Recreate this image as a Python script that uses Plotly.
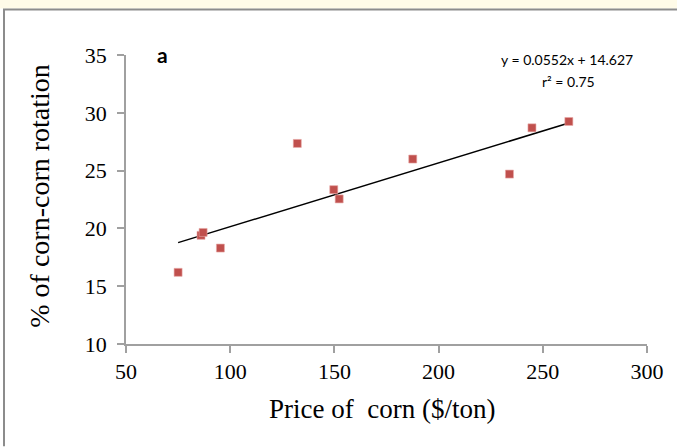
import plotly.graph_objects as go

# Data
price = [75, 86, 87, 95.3, 132.2, 149.7, 152.3, 187.6, 234, 244.8, 262.5]
pct_corn_corn = [16.2, 19.4, 19.65, 18.3, 27.35, 23.35, 22.55, 26.0, 24.7, 28.7, 29.25]

# Fitted trend line (from the equation printed on the chart)
slope = 0.0552
intercept = 14.627
trend_x = [min(price), max(price)]
trend_y = [slope * v + intercept for v in trend_x]

x_ticks = [50, 100, 150, 200, 250, 300]
y_ticks = [10, 15, 20, 25, 30, 35]

x_title = "Price of\u00a0 corn ($/ton)"
y_title = "% of corn-corn rotation"

W, H = 677, 447
L, R, T, B = 126, 647, 55, 344.5

def px(xp):
    return (xp - L) / (R - L)

def py(yp):
    return (B - yp) / (B - T)

SERIF = "Liberation Serif"

fig = go.Figure()
fig.add_trace(go.Scatter(
    x=trend_x, y=trend_y, mode="lines",
    line=dict(color="black", width=1.5), showlegend=False, hoverinfo="skip"))
fig.add_trace(go.Scatter(
    x=price, y=pct_corn_corn, mode="markers",
    marker=dict(symbol="square", size=8, color="#c0504d",
                line=dict(color="#e8a8a6", width=0.6)),
    showlegend=False))

fig.update_layout(
    template="none",
    font=dict(family=SERIF, size=22, color="black"),
    width=W, height=H,
    margin=dict(l=L, r=W - R, t=T, b=H - B, pad=0),
    paper_bgcolor="white", plot_bgcolor="white",
)

fig.update_xaxes(
    range=[50, 300], tickmode="array", tickvals=x_ticks,
    showgrid=False, zeroline=False,
    showline=True, linecolor="#a0a0a0", linewidth=1.5,
    ticks="outside", ticklen=7, tickcolor="#a0a0a0", tickwidth=1.5,
    tickfont=dict(family=SERIF, size=22, color="black"),
    ticklabelstandoff=0)
fig.update_yaxes(
    range=[10, 35], tickmode="array", tickvals=y_ticks,
    showgrid=False, zeroline=False,
    showline=True, linecolor="#a0a0a0", linewidth=1.5,
    ticks="outside", ticklen=7, tickcolor="#a0a0a0", tickwidth=1.5,
    tickfont=dict(family=SERIF, size=22, color="black"),
    ticklabelstandoff=6)

fig.add_shape(type="rect", xref="paper", yref="paper", x0=px(0), x1=px(W), y0=py(8.5), y1=py(0),
              fillcolor="#fffbe8", line_width=0, layer="below")
fig.add_shape(type="line", xref="paper", yref="paper", x0=px(3), x1=px(W), y0=py(9.5), y1=py(9.5),
              line=dict(color="#8c8c8c", width=2))
fig.add_shape(type="line", xref="paper", yref="paper", x0=px(4), x1=px(4), y0=py(9), y1=py(H),
              line=dict(color="#8c8c8c", width=2))

# axis titles
fig.add_annotation(text=x_title, xref="paper", yref="paper", x=px(382), y=py(410),
                   showarrow=False, xanchor="center", yanchor="middle",
                   font=dict(family=SERIF, size=27, color="black"))
fig.add_annotation(text=y_title, xref="paper", yref="paper", x=px(40), y=py(196), textangle=-90,
                   showarrow=False, xanchor="center", yanchor="middle",
                   font=dict(family=SERIF, size=28, color="black"))

fig.add_annotation(text="<b>a</b>", xref="paper", yref="paper", x=px(162), y=py(54),
                   showarrow=False, xanchor="center", yanchor="middle",
                   font=dict(family="Lato", size=21, color="black"))
fig.add_annotation(text="y = 0.0552x + 14.627", xref="paper", yref="paper", x=px(567), y=py(60),
                   showarrow=False, xanchor="center", yanchor="middle",
                   font=dict(family="Lato", size=14, color="black"))
fig.add_annotation(text="r² = 0.75", xref="paper", yref="paper", x=px(568), y=py(82),
                   showarrow=False, xanchor="center", yanchor="middle",
                   font=dict(family="Lato", size=14, color="black"))

fig.write_html("out.html")
